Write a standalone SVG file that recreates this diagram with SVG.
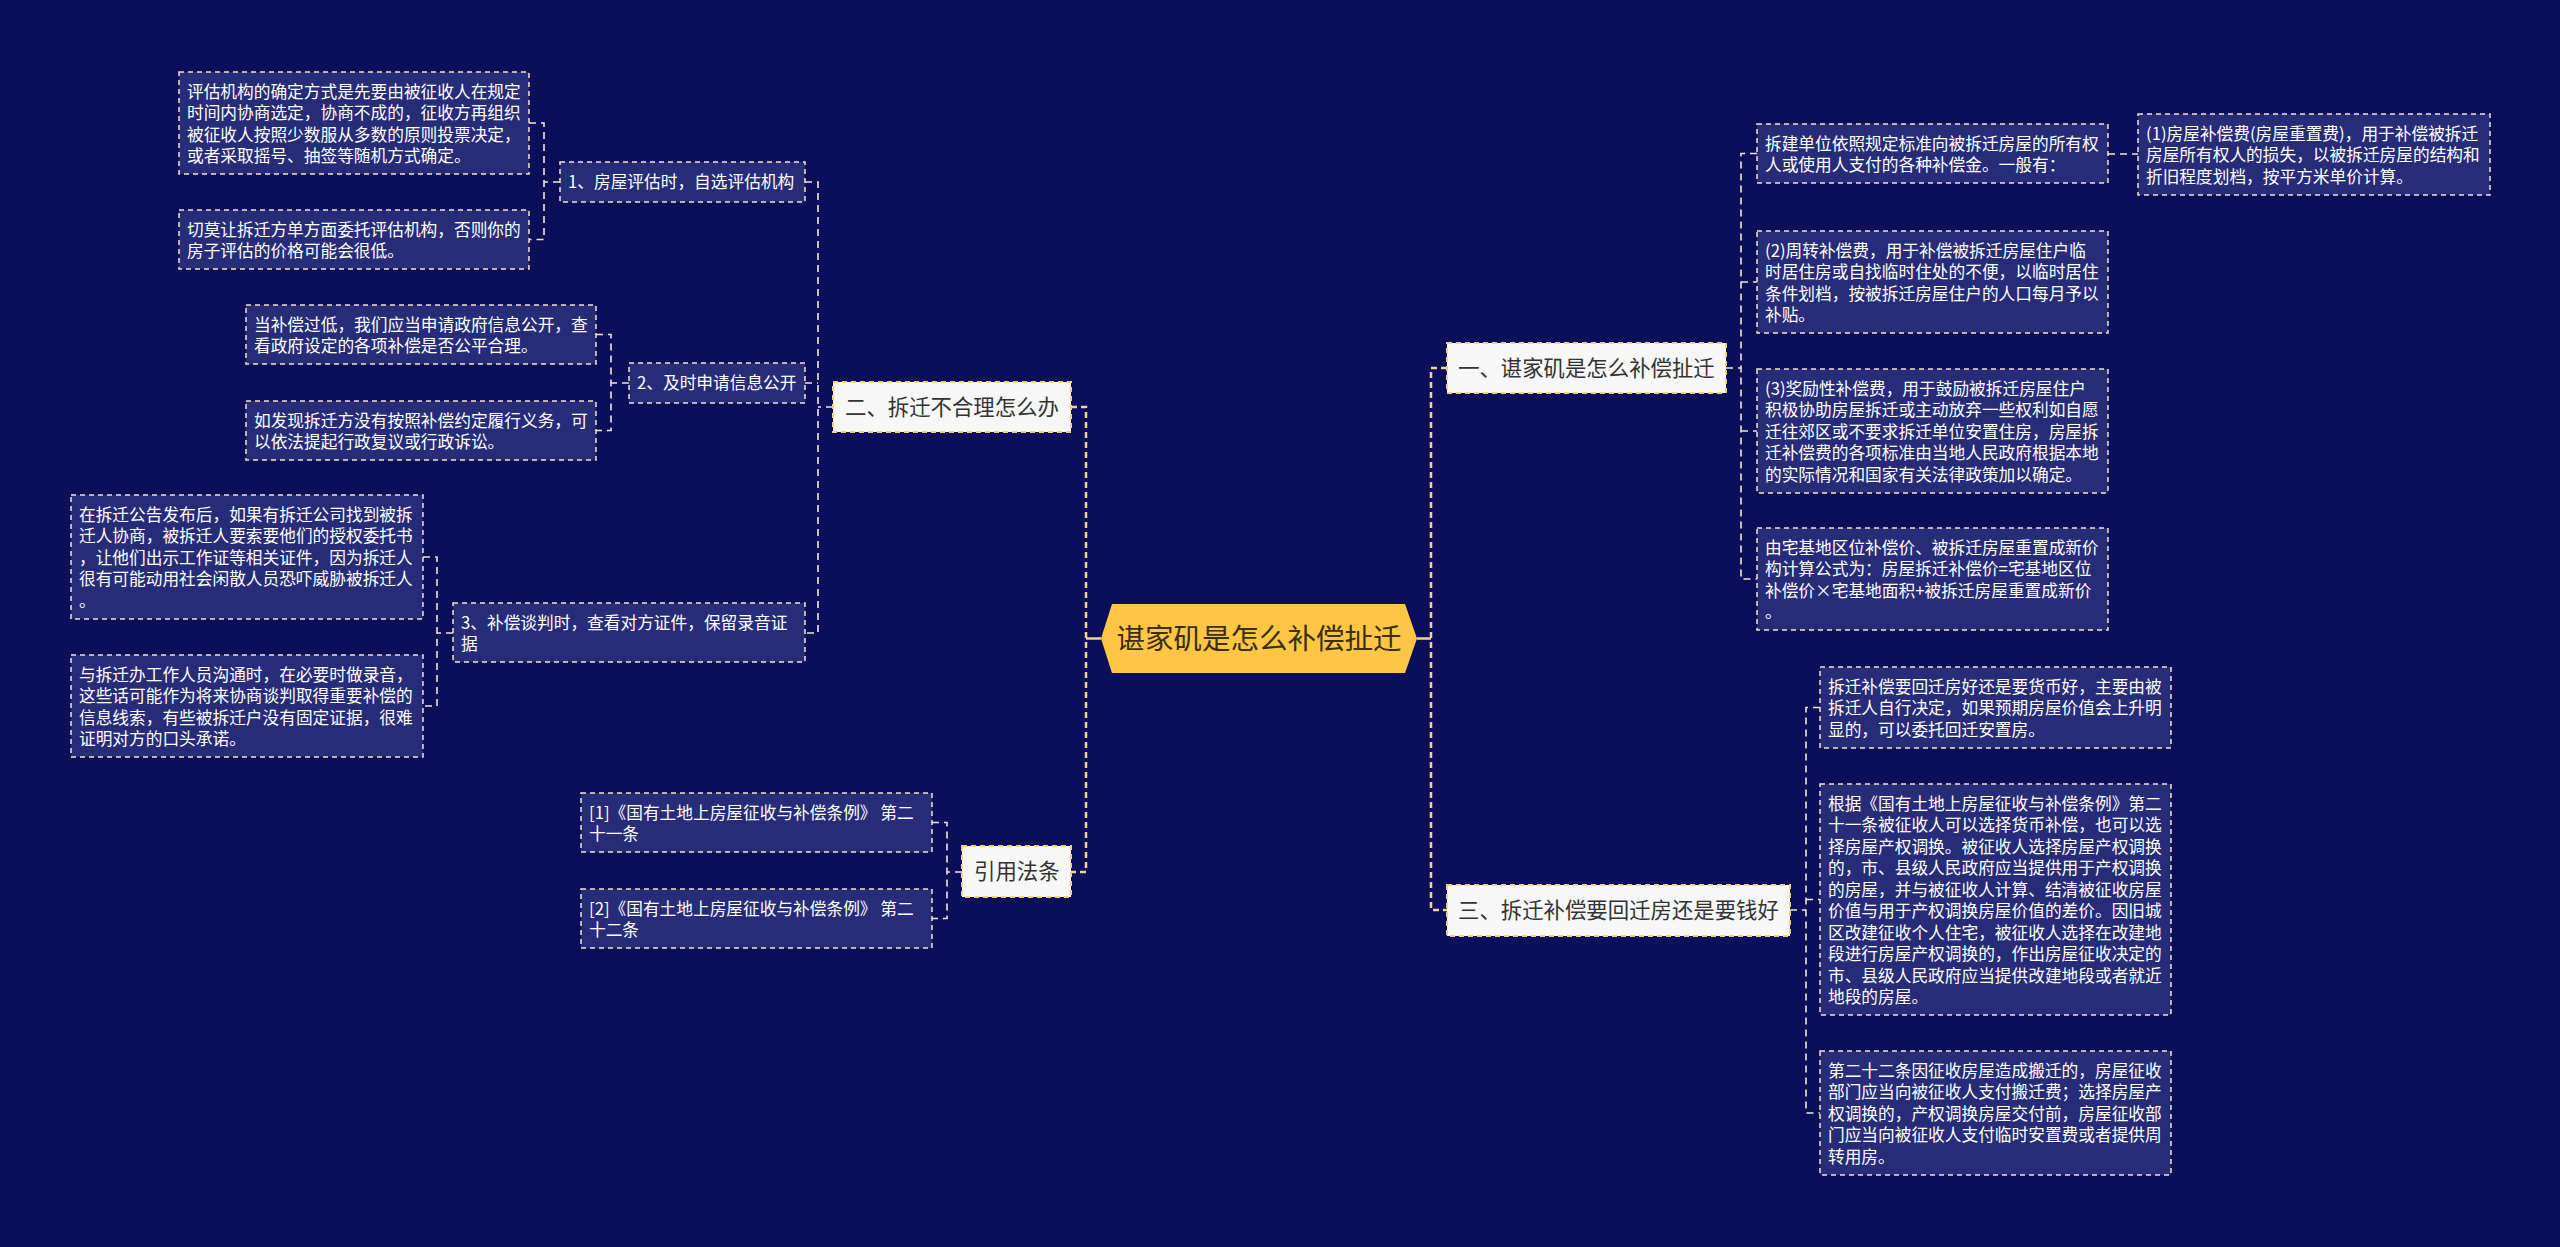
<svg xmlns="http://www.w3.org/2000/svg" width="2560" height="1247" viewBox="0 0 2560 1247">
<style>
.leaf rect{fill:#262c78;stroke:#f2e3c9;stroke-width:1.5;stroke-dasharray:5 4}
.leaf text{fill:#ffffff;font-family:"Noto Sans CJK SC","Noto Sans",sans-serif;font-size:16.7px}
.lv1 rect{fill:#f7f7f7;stroke:#f3cf7e;stroke-width:2;stroke-dasharray:5 4}
.lv1 text{fill:#333333;font-family:"Noto Sans CJK SC","Noto Sans",sans-serif;font-size:21.4px}
.root polygon{fill:#fdc745}
.root text{fill:#3b2e12;font-family:"Noto Sans CJK SC","Noto Sans",sans-serif;font-size:28.5px}
.main{fill:none;stroke:#f3d38e;stroke-width:2.5;stroke-dasharray:6 4}
.mainsolid{fill:none;stroke:#f3d38e;stroke-width:2.5}
.sub{fill:none;stroke:#efe6d6;stroke-width:1.6;stroke-dasharray:7 5}
</style>
<rect x="0" y="0" width="2560" height="1247" fill="#0b0f5a"/>

<g id="connectors">
  <!-- root left -->
  <path class="mainsolid" d="M1101,638.5 H1086"/>
  <path class="main" d="M1071,407 H1086 V872 H1071"/>
  <!-- root right -->
  <path class="mainsolid" d="M1417,638.5 H1431"/>
  <path class="main" d="M1447,368 H1431 V910 H1447"/>
  <!-- 二 children -->
  <path class="sub" d="M833,407 H818"/>
  <path class="sub" d="M805,182 H818 V633 H805"/>
  <path class="sub" d="M805,383 H818"/>
  <!-- 1、 children -->
  <path class="sub" d="M560,182 H544"/>
  <path class="sub" d="M529,123 H544 V239.5 H529"/>
  <!-- 2、 children -->
  <path class="sub" d="M629,383 H611"/>
  <path class="sub" d="M596,334.5 H611 V430.5 H596"/>
  <!-- 3、 children -->
  <path class="sub" d="M453,633 H437"/>
  <path class="sub" d="M423,557 H437 V706 H423"/>
  <!-- 引用法条 children -->
  <path class="sub" d="M962,872 H947"/>
  <path class="sub" d="M932,822.5 H947 V918.5 H932"/>
  <!-- 一 children -->
  <path class="sub" d="M1726,368 H1741"/>
  <path class="sub" d="M1757,153.5 H1741 V579 H1757"/>
  <path class="sub" d="M1741,282 H1757"/>
  <path class="sub" d="M1741,431 H1757"/>
  <!-- I to M -->
  <path class="sub" d="M2108,154 H2138"/>
  <!-- 三 children -->
  <path class="sub" d="M1790,910 H1806"/>
  <path class="sub" d="M1820,707.5 H1806 V1113 H1820"/>
  <path class="sub" d="M1806,899.5 H1820"/>
</g>

<g id="root" class="root">
  <polygon points="1101,638.5 1112,604 1405,604 1417,638.5 1405,673 1112,673"/>
  <text x="1259" y="648.5" text-anchor="middle">谌家矶是怎么补偿扯迁</text>
</g>

<g id="n-er" class="lv1">
  <rect x="833" y="382" width="238" height="50"/>
  <text x="845" y="414.7">二、拆迁不合理怎么办</text>
</g>
<g id="n-yinyong" class="lv1">
  <rect x="962" y="846" width="109" height="51"/>
  <text x="974" y="879.2">引用法条</text>
</g>
<g id="n-yi" class="lv1">
  <rect x="1447" y="343" width="279" height="50"/>
  <text x="1458" y="375.7">一、谌家矶是怎么补偿扯迁</text>
</g>
<g id="n-san" class="lv1">
  <rect x="1447" y="885" width="343" height="51"/>
  <text x="1458" y="918.2">三、拆迁补偿要回迁房还是要钱好</text>
</g>

<g id="n-1" class="leaf">
  <rect x="560" y="162" width="245" height="40"/>
  <text x="568" y="188">1、房屋评估时，自选评估机构</text>
</g>
<g id="n-2" class="leaf">
  <rect x="629" y="363" width="176" height="40"/>
  <text x="637" y="389">2、及时申请信息公开</text>
</g>
<g id="n-3" class="leaf">
  <rect x="453" y="603" width="352" height="59"/>
  <text x="461"><tspan x="461" y="628.5">3、补偿谈判时，查看对方证件，保留录音证</tspan><tspan x="461" y="650">据</tspan></text>
</g>

<g id="leaf-a" class="leaf">
  <rect x="179" y="72" width="350" height="102"/>
  <text><tspan x="187" y="97.5">评估机构的确定方式是先要由被征收人在规定</tspan><tspan x="187" y="119">时间内协商选定，协商不成的，征收方再组织</tspan><tspan x="187" y="140.5">被征收人按照少数服从多数的原则投票决定，</tspan><tspan x="187" y="162">或者采取摇号、抽签等随机方式确定。</tspan></text>
</g>
<g id="leaf-b" class="leaf">
  <rect x="179" y="210" width="350" height="59"/>
  <text><tspan x="187" y="235.5">切莫让拆迁方单方面委托评估机构，否则你的</tspan><tspan x="187" y="257">房子评估的价格可能会很低。</tspan></text>
</g>
<g id="leaf-c" class="leaf">
  <rect x="246" y="305" width="350" height="59"/>
  <text><tspan x="254" y="330.5">当补偿过低，我们应当申请政府信息公开，查</tspan><tspan x="254" y="352">看政府设定的各项补偿是否公平合理。</tspan></text>
</g>
<g id="leaf-d" class="leaf">
  <rect x="246" y="401" width="350" height="59"/>
  <text><tspan x="254" y="426.5">如发现拆迁方没有按照补偿约定履行义务，可</tspan><tspan x="254" y="448">以依法提起行政复议或行政诉讼。</tspan></text>
</g>
<g id="leaf-e" class="leaf">
  <rect x="71" y="495" width="352" height="124"/>
  <text><tspan x="79" y="520.5">在拆迁公告发布后，如果有拆迁公司找到被拆</tspan><tspan x="79" y="542">迁人协商，被拆迁人要索要他们的授权委托书</tspan><tspan x="79" y="563.5">，让他们出示工作证等相关证件，因为拆迁人</tspan><tspan x="79" y="585">很有可能动用社会闲散人员恐吓威胁被拆迁人</tspan><tspan x="79" y="606.5">。</tspan></text>
</g>
<g id="leaf-f" class="leaf">
  <rect x="71" y="655" width="352" height="102"/>
  <text><tspan x="79" y="680.5">与拆迁办工作人员沟通时，在必要时做录音，</tspan><tspan x="79" y="702">这些话可能作为将来协商谈判取得重要补偿的</tspan><tspan x="79" y="723.5">信息线索，有些被拆迁户没有固定证据，很难</tspan><tspan x="79" y="745">证明对方的口头承诺。</tspan></text>
</g>
<g id="leaf-g" class="leaf">
  <rect x="581" y="793" width="351" height="59"/>
  <text><tspan x="589" y="818.5">[1]《国有土地上房屋征收与补偿条例》 第二</tspan><tspan x="589" y="840">十一条</tspan></text>
</g>
<g id="leaf-h" class="leaf">
  <rect x="581" y="889" width="351" height="59"/>
  <text><tspan x="589" y="914.5">[2]《国有土地上房屋征收与补偿条例》 第二</tspan><tspan x="589" y="936">十二条</tspan></text>
</g>

<g id="leaf-i" class="leaf">
  <rect x="1757" y="124" width="351" height="59"/>
  <text><tspan x="1765" y="149.5">拆建单位依照规定标准向被拆迁房屋的所有权</tspan><tspan x="1765" y="171">人或使用人支付的各种补偿金。一般有：</tspan></text>
</g>
<g id="leaf-m" class="leaf">
  <rect x="2138" y="114" width="352" height="81"/>
  <text><tspan x="2146" y="139.5">(1)房屋补偿费(房屋重置费)，用于补偿被拆迁</tspan><tspan x="2146" y="161">房屋所有权人的损失，以被拆迁房屋的结构和</tspan><tspan x="2146" y="182.5">折旧程度划档，按平方米单价计算。</tspan></text>
</g>
<g id="leaf-j" class="leaf">
  <rect x="1757" y="231" width="351" height="102"/>
  <text><tspan x="1765" y="256.5">(2)周转补偿费，用于补偿被拆迁房屋住户临</tspan><tspan x="1765" y="278">时居住房或自找临时住处的不便，以临时居住</tspan><tspan x="1765" y="299.5">条件划档，按被拆迁房屋住户的人口每月予以</tspan><tspan x="1765" y="321">补贴。</tspan></text>
</g>
<g id="leaf-k" class="leaf">
  <rect x="1757" y="369" width="351" height="124"/>
  <text><tspan x="1765" y="394.5">(3)奖励性补偿费，用于鼓励被拆迁房屋住户</tspan><tspan x="1765" y="416">积极协助房屋拆迁或主动放弃一些权利如自愿</tspan><tspan x="1765" y="437.5">迁往郊区或不要求拆迁单位安置住房，房屋拆</tspan><tspan x="1765" y="459">迁补偿费的各项标准由当地人民政府根据本地</tspan><tspan x="1765" y="480.5">的实际情况和国家有关法律政策加以确定。</tspan></text>
</g>
<g id="leaf-l" class="leaf">
  <rect x="1757" y="528" width="351" height="102"/>
  <text><tspan x="1765" y="553.5">由宅基地区位补偿价、被拆迁房屋重置成新价</tspan><tspan x="1765" y="575">构计算公式为：房屋拆迁补偿价=宅基地区位</tspan><tspan x="1765" y="596.5">补偿价×宅基地面积+被拆迁房屋重置成新价</tspan><tspan x="1765" y="618">。</tspan></text>
</g>

<g id="leaf-n" class="leaf">
  <rect x="1820" y="667" width="351" height="81"/>
  <text><tspan x="1828" y="692.5">拆迁补偿要回迁房好还是要货币好，主要由被</tspan><tspan x="1828" y="714">拆迁人自行决定，如果预期房屋价值会上升明</tspan><tspan x="1828" y="735.5">显的，可以委托回迁安置房。</tspan></text>
</g>
<g id="leaf-o" class="leaf">
  <rect x="1820" y="784" width="351" height="231"/>
  <text><tspan x="1828" y="809.5">根据《国有土地上房屋征收与补偿条例》第二</tspan><tspan x="1828" y="831">十一条被征收人可以选择货币补偿，也可以选</tspan><tspan x="1828" y="852.5">择房屋产权调换。被征收人选择房屋产权调换</tspan><tspan x="1828" y="874">的，市、县级人民政府应当提供用于产权调换</tspan><tspan x="1828" y="895.5">的房屋，并与被征收人计算、结清被征收房屋</tspan><tspan x="1828" y="917">价值与用于产权调换房屋价值的差价。因旧城</tspan><tspan x="1828" y="938.5">区改建征收个人住宅，被征收人选择在改建地</tspan><tspan x="1828" y="960">段进行房屋产权调换的，作出房屋征收决定的</tspan><tspan x="1828" y="981.5">市、县级人民政府应当提供改建地段或者就近</tspan><tspan x="1828" y="1003">地段的房屋。</tspan></text>
</g>
<g id="leaf-p" class="leaf">
  <rect x="1820" y="1051" width="351" height="124"/>
  <text><tspan x="1828" y="1076.5">第二十二条因征收房屋造成搬迁的，房屋征收</tspan><tspan x="1828" y="1098">部门应当向被征收人支付搬迁费；选择房屋产</tspan><tspan x="1828" y="1119.5">权调换的，产权调换房屋交付前，房屋征收部</tspan><tspan x="1828" y="1141">门应当向被征收人支付临时安置费或者提供周</tspan><tspan x="1828" y="1162.5">转用房。</tspan></text>
</g>
</svg>
